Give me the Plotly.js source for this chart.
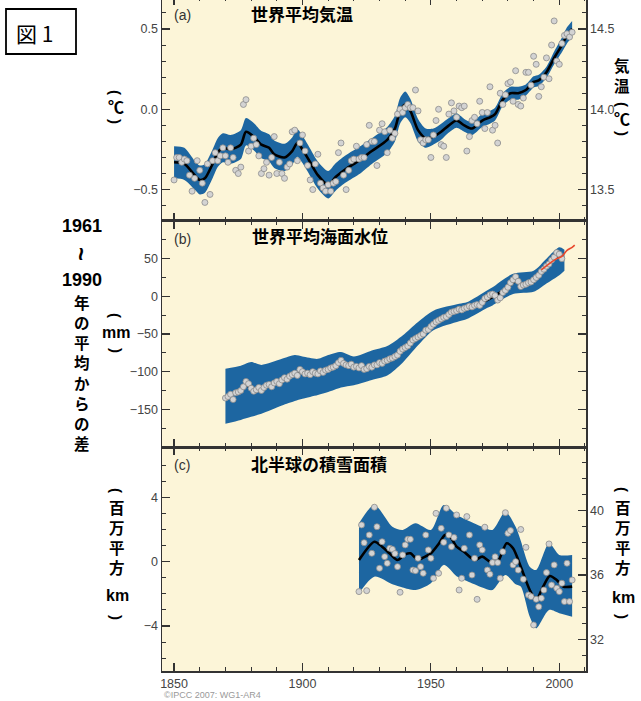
<!DOCTYPE html>
<html><head><meta charset="utf-8">
<script src="https://cdn.plot.ly/plotly-3.0.1.min.js"></script>
<style>
html,body{margin:0;padding:0;background:#fff;overflow:hidden;width:641px;height:701px}
#chart{position:absolute;left:0;top:-10px;width:641px;height:711px}
</style>
</head><body><div id="chart"></div>
<script>
// ---------- (a) global mean temperature anomaly (°C, vs 1961-1990) ----------
const tempStartYear = 1850;
const tempAnnual = [
 -0.44,-0.30,-0.30,-0.33,-0.31,-0.32,-0.41,-0.51,-0.43,-0.32,
 -0.38,-0.46,-0.58,-0.34,-0.53,-0.32,-0.27,-0.32,-0.29,-0.24,
 -0.29,-0.33,-0.24,-0.30,-0.38,-0.40,-0.36,0.03,0.06,-0.26,
 -0.23,-0.18,-0.22,-0.29,-0.40,-0.37,-0.33,-0.41,-0.30,-0.17,
 -0.40,-0.33,-0.40,-0.43,-0.36,-0.34,-0.14,-0.13,-0.32,-0.21,
 -0.16,-0.26,-0.35,-0.44,-0.50,-0.34,-0.28,-0.46,-0.49,-0.51,
 -0.47,-0.51,-0.46,-0.45,-0.27,-0.21,-0.41,-0.50,-0.38,-0.32,
 -0.31,-0.23,-0.31,-0.30,-0.30,-0.22,-0.10,-0.20,-0.20,-0.35,
 -0.13,-0.09,-0.14,-0.27,-0.13,-0.18,-0.15,-0.03,0.00,-0.02,
 0.01,0.03,0.01,0.01,0.12,-0.01,-0.19,-0.21,-0.19,-0.19,
 -0.30,-0.16,-0.07,0.00,-0.22,-0.23,-0.30,-0.03,0.04,-0.01,
 -0.05,0.02,0.01,0.02,-0.26,-0.17,-0.07,-0.05,-0.09,0.05,
 -0.02,-0.12,-0.02,0.14,-0.13,-0.10,-0.21,0.10,0.03,0.09,
 0.16,0.17,0.05,0.24,0.03,0.02,0.07,0.23,0.23,0.15,
 0.33,0.28,0.08,0.14,0.20,0.32,0.19,0.40,0.55,0.30,
 0.28,0.41,0.46,0.47,0.45,0.48];
const tempSmoothYears = [1850,1854,1858,1860,1862,1865,1867,1869,1872,1876,1878,1881,1884,1887,1889,1893,1896,1898,1900,1903,1906,1910,1913,1917,1922,1927,1933,1936,1938,1940,1942,1945,1948,1951,1954,1957,1960,1963,1966,1970,1973,1975,1978,1981,1984,1987,1990,1992,1995,1998,2001,2003,2005];
const tempSmooth = [-0.33,-0.34,-0.41,-0.44,-0.43,-0.34,-0.27,-0.24,-0.25,-0.22,-0.14,-0.17,-0.22,-0.24,-0.28,-0.30,-0.26,-0.21,-0.25,-0.33,-0.41,-0.47,-0.42,-0.37,-0.32,-0.26,-0.19,-0.12,-0.01,0.03,-0.01,-0.13,-0.18,-0.17,-0.14,-0.10,-0.07,-0.10,-0.12,-0.07,-0.05,-0.03,0.06,0.10,0.10,0.12,0.17,0.18,0.23,0.32,0.40,0.46,0.50];
const tempHalfWidth = [0.10,0.10,0.09,0.09,0.09,0.09,0.09,0.09,0.09,0.09,0.085,0.085,0.085,0.085,0.085,0.085,0.085,0.085,0.085,0.085,0.085,0.085,0.085,0.085,0.085,0.08,0.08,0.08,0.08,0.08,0.075,0.07,0.06,0.05,0.05,0.045,0.045,0.04,0.04,0.04,0.04,0.04,0.04,0.04,0.04,0.035,0.035,0.035,0.035,0.04,0.045,0.05,0.05];

// ---------- (b) global mean sea level (mm) ----------
const seaStartYear = 1870;
const seaAnnual = [
 -135,-133,-130,-137,-128,-127,-125,-120,-113,-116,
 -122,-126,-124,-121,-125,-121,-118,-117,-120,-115,
 -113,-116,-111,-108,-110,-106,-104,-102,-105,-97,
 -100,-103,-102,-104,-100,-102,-103,-99,-101,-98,
 -97,-95,-94,-92,-88,-85,-89,-91,-92,-90,
 -94,-93,-95,-92,-97,-96,-93,-94,-91,-91,
 -88,-89,-86,-85,-83,-82,-80,-78,-73,-70,
 -68,-66,-62,-58,-56,-54,-52,-50,-45,-44,
 -40,-37,-34,-32,-30,-28,-27,-24,-21,-20,
 -19,-17,-18,-16,-15,-13,-14,-12,-11,-12,
 -8,-3,-1,2,3,1,-5,-2,5,8,
 12,18,22,26,20,13,15,16,18,19,
 22,25,28,33,36,40,43,48,52,58,
 56,50];
const seaSmoothYears = [1870,1875,1878,1881,1885,1890,1895,1900,1905,1910,1915,1920,1925,1930,1935,1940,1945,1950,1955,1960,1965,1970,1975,1980,1983,1986,1990,1995,2000,2001];
const seaSmooth = [-133,-126,-118,-123,-121,-115,-106,-100,-102,-97,-89,-92,-95,-90,-82,-68,-54,-41,-29,-19,-14,-8,1,12,20,15,21,39,55,55];
const seaBandYears = [1870,1876,1880,1884,1892,1897,1900,1906,1910,1915,1920,1927,1933,1939,1945,1951,1961,1964,1972,1974,1982,1990,1995,2000,2002];
const seaBandUpper = [-96,-92,-87,-91,-83,-78,-80,-83,-78,-74,-80,-72,-66,-52,-34,-19,-10,-8,8,12,30,34,50,65,62];
const seaBandLower = [-169,-164,-160,-156,-145,-139,-136,-131,-127,-121,-118,-111,-105,-88,-65,-45,-33,-30,-15,-12,3,6,17,28,34];
const satYears = [1993,1996,1999,2001,2003,2005,2006];
const satSea = [35,43,50,53,61,65,68];

// ---------- (c) NH snow cover (million km², anomaly) ----------
const snowStartYear = 1922;
const snowAnnual = [
 -1.86,2.28,1.18,-1.8,1.66,0.52,3.38,2.17,-0.41,1.24,
 0.31,-0.1,0.83,0.77,0.5,-0.31,-1.9,0.42,1.04,1.39,
 1.39,-0.52,-0.56,0.21,-0.31,-0.72,1.66,0.73,0.21,-1.03,
 3.0,-0.72,2.07,1.2,3.32,1.66,0.93,1.5,2.9,-1.76,
 -1.03,0.83,2.8,1.66,-0.83,0.21,-2.34,1.04,0.73,2.14,
 -0.52,-0.78,-0.06,0.3,-0.06,-1.03,0.62,3.04,1.76,1.93,
 -0.2,0,-0.52,2.0,-1.09,0.89,-2.07,-2.17,-3.93,-2.34,
 -2.8,-2.27,-1.76,-0.68,1.1,-1.45,-0.2,-1.65,-1.86,-1.34,
 -2.48,-0.1,-2.48,-1.14];
const snowSmoothYears = [1922,1928,1931,1934,1937,1940,1942,1945,1947,1950,1953,1955.5,1957.5,1960,1963,1967,1970,1973,1976,1979.5,1982,1985,1988.5,1991,1993.7,1996.3,1999,2001.5,2005];
const snowSmooth = [0.1,1.24,0.93,0.5,0.1,0.45,0.52,0.1,0.25,0.52,1.1,1.66,1.55,0.93,0.6,0.1,0.31,0,0,1.14,0.83,-0.31,-1.76,-2.38,-1.55,-0.89,-1.14,-1.55,-1.55];
const snowBandYears = [1922,1928,1935,1939,1944,1950,1955,1960,1964,1970,1974,1979,1983,1985,1988.5,1991,1996,2000,2005];
const snowBandUpper = [2.38,3.52,2.17,1.97,2.38,1.97,3.52,2.9,2.59,2.17,1.97,3.1,2.17,1.3,-0.31,-0.52,1.14,0.42,0.42];
const snowBandLower = [-1.96,-0.93,-1.4,-1.6,-1.76,-1.34,-0.2,-0.9,-1.2,-1.6,-1.76,-0.83,-1.4,-1.55,-3.42,-4.14,-3.0,-3.2,-3.42];

// ---------- tick labels ----------
const xTickVals = [1850,1900,1950,2000];
const tempTickVals = [-0.5,0,0.5];
const absTempTickVals = [13.5,14.0,14.5];
const seaTickVals = [-150,-100,-50,0,50];
const snowTickVals = [-4,0,4];
const absSnowTickVals = [32,36,40];

// ---------- styles ----------
const BAND = '#1d66a1', BG = '#fcf5d8', FRAME = '#333333', TXT = '#444444';
const SMOOTH = 0.75;
const yearsFrom = (start, arr) => arr.map((_, i) => start + i);

function bandTraces(xs, lo, hi, xa, ya) {
  return [
    {x: xs, y: lo, xaxis: xa, yaxis: ya, mode: 'lines', line: {width: 0, shape: 'spline', smoothing: SMOOTH}, hoverinfo: 'skip', showlegend: false},
    {x: xs, y: hi, xaxis: xa, yaxis: ya, mode: 'lines', fill: 'tonexty', fillcolor: BAND, line: {width: 0, shape: 'spline', smoothing: SMOOTH}, hoverinfo: 'skip', showlegend: false}
  ];
}
function dotTrace(xs, ys, xa, ya) {
  return {x: xs, y: ys, xaxis: xa, yaxis: ya, mode: 'markers', showlegend: false,
    marker: {size: 6, color: '#d3d3d3', line: {color: '#8c8c8c', width: 0.8}}};
}
function lineTrace(xs, ys, xa, ya) {
  return {x: xs, y: ys, xaxis: xa, yaxis: ya, mode: 'lines', showlegend: false,
    line: {color: '#000', width: 2.6, shape: 'spline', smoothing: SMOOTH}};
}

const tempUpper = tempSmooth.map((v, i) => v + tempHalfWidth[i]);
const tempLower = tempSmooth.map((v, i) => v - tempHalfWidth[i]);

const traces = [
  ...bandTraces(tempSmoothYears, tempLower, tempUpper, 'x3', 'y3'),
  lineTrace(tempSmoothYears, tempSmooth, 'x3', 'y3'),
  dotTrace(yearsFrom(tempStartYear, tempAnnual), tempAnnual, 'x3', 'y3'),
  ...bandTraces(seaBandYears, seaBandLower, seaBandUpper, 'x2', 'y2'),
  lineTrace(seaSmoothYears, seaSmooth, 'x2', 'y2'),
  dotTrace(yearsFrom(seaStartYear, seaAnnual), seaAnnual, 'x2', 'y2'),
  {x: satYears, y: satSea, xaxis: 'x2', yaxis: 'y2', mode: 'lines', showlegend: false,
   line: {color: '#e8472b', width: 1.6, shape: 'spline'}},
  ...bandTraces(snowBandYears, snowBandLower, snowBandUpper, 'x', 'y'),
  lineTrace(snowSmoothYears, snowSmooth, 'x', 'y'),
  dotTrace(yearsFrom(snowStartYear, snowAnnual), snowAnnual, 'x', 'y'),
  {x: [], y: [], xaxis: 'x3', yaxis: 'y4', showlegend: false},
  {x: [], y: [], xaxis: 'x', yaxis: 'y5', showlegend: false}
];

const tickFont = {family: 'Liberation Sans, Arial, sans-serif', size: 12.5, color: TXT};
const axisCommon = {showline: true, linecolor: FRAME, linewidth: 1.5, ticks: 'inside', tickcolor: FRAME,
  tickwidth: 1.2, showgrid: false, zeroline: false, tickfont: tickFont, fixedrange: true};
function xAxis(anchor, labels) {
  return Object.assign({}, axisCommon, {anchor: anchor, range: [1845.3, 2010.4], tickmode: 'array',
    tickvals: xTickVals, ticklen: 8, mirror: 'ticks', showticklabels: labels,
    minor: {tickmode: 'linear', tick0: 1850, dtick: 10, ticks: 'inside', ticklen: 4, tickcolor: FRAME, tickwidth: 1}});
}
function yAxis(extra, minorDtick) {
  return Object.assign({}, axisCommon, {ticklen: 8,
    minor: {tickmode: 'linear', tick0: 0, dtick: minorDtick, ticks: 'inside', ticklen: 4, tickcolor: FRAME, tickwidth: 1}}, extra);
}

const dA = [0.66766, 1], dB = [0.33234, 0.66766], dC = [0, 0.33234];
const L = 162, PW = 424;
const px = sx => (sx - L) / PW;
const py = sy => (671 - sy) / 674;

const CJK = 'Noto Sans CJK JP, sans-serif';
const LAT = 'Liberation Sans, Arial, sans-serif';
const annotations = [];
function txt(t, sx, sy, size, family, opts) {
  annotations.push(Object.assign({text: t, x: px(sx), y: py(sy), xref: 'paper', yref: 'paper',
    xanchor: 'center', yanchor: 'middle', showarrow: false, borderpad: 0,
    font: {family: family, size: size, color: '#000', weight: 'bold'}}, opts || {}));
}
function paren(open, sx, sy) { txt(open ? '(' : ')', sx, sy, 15, LAT, {textangle: 90}); }
const column = chars => chars.join('<br>');

// panel titles
txt('世界平均気温', 250, 13, 17, CJK, {xanchor: 'left'});
txt('世界平均海面水位', 251, 236, 17, CJK, {xanchor: 'left'});
txt('北半球の積雪面積', 250, 463, 17, CJK, {xanchor: 'left'});
// panel letters
const letterFont = {family: LAT, size: 14, color: '#333', weight: 'normal'};
txt('(a)', 173, 15, 14, LAT, {xanchor: 'left', font: letterFont});
txt('(b)', 173, 238.5, 14, LAT, {xanchor: 'left', font: letterFont});
txt('(c)', 173, 465, 14, LAT, {xanchor: 'left', font: letterFont});
// figure tag
txt('図 1', 34, 33, 21, CJK, {font: {family: CJK, size: 21, color: '#000', weight: 'normal'}});
// left big label
txt('1961', 82, 226, 18, LAT);
txt('~', 82, 254, 24, LAT, {textangle: 90});
txt('1990', 82, 280, 18, LAT);
txt(column(['年','の','平','均','か','ら','の','差']), 82, 372.5, 15.5, CJK);
// (℃) left of panel a
paren(true, 116, 92); txt('℃', 116, 106, 16, CJK); paren(false, 116, 121);
// (mm) panel b
paren(true, 116, 315); txt('mm', 116, 332, 16, LAT); paren(false, 116, 350);
// (百万平方km) panel c left and right
function unitC(sx, ys) {
  paren(true, sx, ys[0]);
  txt(column(['百','万','平','方']), sx, ys[1], 15.5, CJK);
  txt('km', sx, ys[2], 16, LAT);
  paren(false, sx, ys[3]);
}
unitC(117, [490, 537, 595, 617]);
unitC(623, [489, 537, 597, 616]);
// 気温(℃) right of panel a
txt(column(['気','温']), 622, 75, 15.5, CJK);
paren(true, 622, 104); txt('℃', 622, 118, 16, CJK); paren(false, 622, 133);
// copyright
txt('©IPCC 2007: WG1-AR4', 163, 695, 9, LAT, {xanchor: 'left', font: {family: LAT, size: 9, color: '#999', weight: 'normal'}});

const layout = {
  width: 641, height: 711,
  margin: {l: L, r: 641 - 586, t: 7, b: 30},
  paper_bgcolor: '#ffffff', plot_bgcolor: BG,
  showlegend: false,
  xaxis: xAxis('y', true),
  xaxis2: Object.assign(xAxis('y2', false), {matches: 'x'}),
  xaxis3: Object.assign(xAxis('y3', false), {matches: 'x'}),
  yaxis: yAxis({domain: dC, anchor: 'x', range: [-6.79, 7.12], tickmode: 'array', tickvals: snowTickVals}, 1),
  yaxis2: yAxis({domain: dB, anchor: 'x2', range: [-200, 100], tickmode: 'array', tickvals: seaTickVals, mirror: 'ticks'}, 25),
  yaxis3: yAxis({domain: dA, anchor: 'x3', range: [-0.6955, 0.699], tickmode: 'array', tickvals: tempTickVals, tickformat: '.1f'}, 0.1),
  yaxis4: yAxis({overlaying: 'y3', anchor: 'x3', side: 'right', range: [13.3045, 14.699], tickmode: 'array', tickvals: absTempTickVals, tickformat: '.1f'}, 0.1),
  yaxis5: yAxis({overlaying: 'y', anchor: 'x', side: 'right', range: [30.03, 43.96], tickmode: 'array', tickvals: absSnowTickVals}, 1),
  annotations: annotations,
  shapes: [{type: 'rect', xref: 'paper', yref: 'paper', x0: px(6), x1: px(76), y0: py(54), y1: py(9),
    line: {color: '#000', width: 1.8}, fillcolor: 'rgba(0,0,0,0)'}]
};

Plotly.newPlot('chart', traces, layout, {staticPlot: true, displayModeBar: false});
</script></body></html>
